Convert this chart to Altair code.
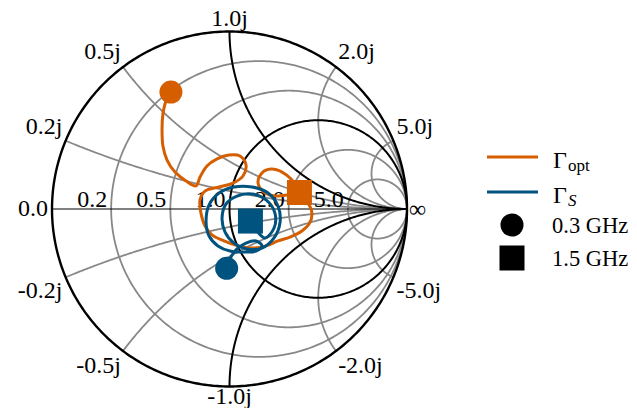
import numpy as np
import pandas as pd
import altair as alt

opt_re = [-0.330, -0.358, -0.375, -0.380, -0.375, -0.352, -0.307, -0.245, -0.189,
          -0.166, -0.127, -0.070, -0.003, 0.059, 0.093, 0.076, 0.020, -0.059, -0.138,
          -0.166, -0.161, -0.138, -0.099, -0.031, 0.048, 0.127, 0.206, 0.273, 0.341,
          0.408, 0.448, 0.465, 0.448, 0.397, 0.330, 0.256, 0.194, 0.161, 0.183, 0.234,
          0.296, 0.352, 0.394]
opt_im = [0.659, 0.608, 0.535, 0.451, 0.355, 0.276, 0.208, 0.158, 0.130,
          0.180, 0.242, 0.282, 0.304, 0.299, 0.248, 0.186, 0.146, 0.124, 0.101,
          0.051, -0.023, -0.096, -0.146, -0.180, -0.208, -0.220, -0.208, -0.180, -0.158,
          -0.124, -0.085, -0.028, 0.023, 0.062, 0.079, 0.073, 0.096, 0.146, 0.203, 0.225,
          0.208, 0.163, 0.093]
s_re = [-0.016, 0.008, 0.042, 0.093, 0.149, 0.183, 0.149, 0.082, 0.003, -0.065,
        -0.115, -0.132, -0.115, -0.059, 0.025, 0.127, 0.217, 0.273, 0.285, 0.251,
        0.183, 0.099, 0.025, -0.025, -0.042, -0.020, 0.042, 0.127, 0.206, 0.256,
        0.251, 0.200, 0.155, 0.118]
s_im = [-0.334, -0.270, -0.225, -0.192, -0.180, -0.208, -0.237, -0.242, -0.237, -0.208,
        -0.152, -0.073, 0.023, 0.090, 0.124, 0.124, 0.090, 0.017, -0.073, -0.163,
        -0.220, -0.225, -0.192, -0.130, -0.051, 0.028, 0.073, 0.085, 0.051, -0.023,
        -0.107, -0.163, -0.124, -0.068]

marker_series = ["opt", "opt", "S", "S"]
marker_freq = ["0.3 GHz", "1.5 GHz", "0.3 GHz", "1.5 GHz"]
marker_re = [-0.330, 0.394, -0.016, 0.118]
marker_im = [0.659, 0.093, -0.334, -0.068]

r_values = [0.2, 0.5, 1.0, 2.0, 5.0]
r_labels = ["0.2", "0.5", "1.0", "2.0", "5.0"]
x_values = [0.2, 0.5, 1.0, 2.0, 5.0, -0.2, -0.5, -1.0, -2.0, -5.0]
x_labels = ["0.2j", "0.5j", "1.0j", "2.0j", "5.0j",
            "-0.2j", "-0.5j", "-1.0j", "-2.0j", "-5.0j"]

ORANGE = "#D55E00"
BLUE = "#00537F"
GRAY = "#888888"
FONT = "Liberation Serif"
FS = 24

W, H = 621, 400

# ---- Smith chart grid geometry ----
rows = []
gid = 0


def add_path(u, v, col, w):
    global gid
    for i, (a, b) in enumerate(zip(u, v)):
        rows.append({"u": float(a), "v": float(b), "id": gid, "i": i, "col": col, "w": w})
    gid += 1


def r_circle(r, n=361):
    t = np.linspace(0, 2 * np.pi, n)
    c = r / (1 + r)
    rad = 1 / (1 + r)
    return c + rad * np.cos(t), rad * np.sin(t)


def x_arc(x, n=400):
    t = np.linspace(0, np.pi / 2, n)[:-1]
    z = np.tan(t) + 1j * x
    g = (z - 1) / (z + 1)
    g = np.append(g, 1 + 0j)
    return g.real, g.imag


for r in r_values:
    if r != 1.0:
        add_path(*r_circle(r), GRAY, 1.8)
for x in x_values:
    if abs(x) != 1.0:
        add_path(*x_arc(x), GRAY, 1.8)
add_path(*r_circle(1.0), "black", 2.0)
add_path(*x_arc(1.0), "black", 2.0)
add_path(*x_arc(-1.0), "black", 2.0)
add_path(*r_circle(0.0), "black", 2.4)
grid_df = pd.DataFrame(rows)

U_DOM = [-221.5 / 177.5, (W - 221.5) / 177.5]
V_DOM = [(201 - H) / 177.5, 201 / 177.5]
xs = alt.Scale(domain=U_DOM, nice=False, zero=False)
ys = alt.Scale(domain=V_DOM, nice=False, zero=False)
X = lambda f: alt.X(f, scale=xs, axis=None)
Y = lambda f: alt.Y(f, scale=ys, axis=None)

grid = alt.Chart(grid_df).mark_line(interpolate="linear").encode(
    x=X("u:Q"), y=Y("v:Q"),
    color=alt.Color("col:N", scale=None),
    strokeWidth=alt.StrokeWidth("w:Q", scale=None),
    detail="id:N",
    order=alt.Order("i:Q"),
)

axis_df = pd.DataFrame({"u": [-1.0], "u2": [1.0], "v": [0.0]})
real_axis = alt.Chart(axis_df).mark_rule(color="black", strokeWidth=1).encode(
    x=X("u:Q"), x2="u2:Q", y=Y("v:Q"))

# real axis labels
rl_df = pd.DataFrame({"u": [(r - 1) / (r + 1) for r in r_values], "v": 0.0, "t": r_labels})
rlab = alt.Chart(rl_df).mark_text(align="right", baseline="alphabetic", dx=-4, dy=-2,
                                  font=FONT, fontSize=FS, color="black").encode(
    x=X("u:Q"), y=Y("v:Q"), text="t:N")
zero_lab = alt.Chart(pd.DataFrame({"u": [-1.0], "v": [0.0], "t": ["0.0"]})).mark_text(
    align="right", baseline="middle", dx=-4, font=FONT, fontSize=FS, color="black").encode(
    x=X("u:Q"), y=Y("v:Q"), text="t:N")
inf_lab = alt.Chart(pd.DataFrame({"u": [1.0], "v": [0.0], "t": ["∞"]})).mark_text(
    align="left", baseline="middle", dx=2, dy=1, font=FONT, fontSize=FS, color="black").encode(
    x=X("u:Q"), y=Y("v:Q"), text="t:N")

# reactance labels at arc ends on the boundary
xl = []
for x, t in zip(x_values, x_labels):
    g = (1j * x - 1) / (1j * x + 1)
    centred = abs(g.real) < 0.02
    g = g * (1.005 if centred else 1.02)
    al = "center" if centred else ("right" if g.real < 0 else "left")
    bl = "bottom" if g.imag > 0 else "top"
    xl.append({"u": g.real, "v": g.imag, "t": t, "al": al, "bl": bl})
xl_df = pd.DataFrame(xl)
xlabs = []
for al in ["left", "center", "right"]:
    for bl in ["top", "bottom"]:
        sub = xl_df[(xl_df.al == al) & (xl_df.bl == bl)]
        if len(sub):
            xlabs.append(alt.Chart(sub).mark_text(align=al, baseline=bl, font=FONT,
                                                  fontSize=FS, color="black",
                                                  dy=(-2 if (al == "center" and bl == "top") else 0)).encode(
                x=X("u:Q"), y=Y("v:Q"), text="t:N"))

# data curves
curve_df = pd.concat([
    pd.DataFrame({"u": opt_re, "v": opt_im, "series": "opt", "i": range(len(opt_re))}),
    pd.DataFrame({"u": s_re, "v": s_im, "series": "S", "i": range(len(s_re))}),
])
cscale = alt.Scale(domain=["opt", "S"], range=[ORANGE, BLUE])
curves = alt.Chart(curve_df).mark_line(strokeWidth=3, strokeJoin="round",
                                       interpolate="catmull-rom").encode(
    x=X("u:Q"), y=Y("v:Q"),
    color=alt.Color("series:N", scale=cscale, legend=None),
    order=alt.Order("i:Q"),
)

mk_df = pd.DataFrame({"u": marker_re, "v": marker_im, "series": marker_series, "freq": marker_freq})
markers = alt.Chart(mk_df).mark_point(filled=True, opacity=1).encode(
    x=X("u:Q"), y=Y("v:Q"),
    color=alt.Color("series:N", scale=cscale, legend=None),
    shape=alt.Shape("freq:N", scale=alt.Scale(domain=["0.3 GHz", "1.5 GHz"],
                                              range=["circle", "square"]), legend=None),
    size=alt.Size("freq:N", scale=alt.Scale(domain=["0.3 GHz", "1.5 GHz"],
                                            range=[530, 625]), legend=None),
)

# ---- legend (drawn by hand so that subscripts can be shown) ----
one = pd.DataFrame({"k": [0]})
leg = []
for yy, col in [(149, ORANGE), (184, BLUE)]:
    leg.append(alt.Chart(one).mark_rule(color=col, strokeWidth=3).encode(
        x=alt.value(479), x2=alt.value(530), y=alt.value(yy)))
leg.append(alt.Chart(one).mark_point(filled=True, color="black", opacity=1, shape="circle",
                                     size=530).encode(x=alt.value(504), y=alt.value(217)))
leg.append(alt.Chart(one).mark_point(filled=True, color="black", opacity=1, shape="square",
                                     size=625).encode(x=alt.value(504), y=alt.value(250)))
txt = [("Γ", 545, 160, FS, "normal"), ("opt", 560, 163, 17, "normal"),
       ("Γ", 545, 195, FS, "normal"), ("S", 560, 198, 17, "italic"),
       ("0.3 GHz", 544, 225, 22.5, "normal"), ("1.5 GHz", 544, 258, 22.5, "normal")]
for t, xx, yy, fs, st in txt:
    leg.append(alt.Chart(one).mark_text(text=t, align="left", baseline="alphabetic", font=FONT,
                                        fontSize=fs, fontStyle=st, color="black").encode(
        x=alt.value(xx), y=alt.value(yy)))

chart = alt.layer(grid, real_axis, rlab, zero_lab, inf_lab, *xlabs, curves, markers, *leg).properties(
    width=W, height=H, padding=0, autosize=alt.AutoSizeParams(type="none"),
    background="white",
).configure_view(stroke=None)

chart.save("out.html", embed_options={"renderer": "svg", "actions": False})
